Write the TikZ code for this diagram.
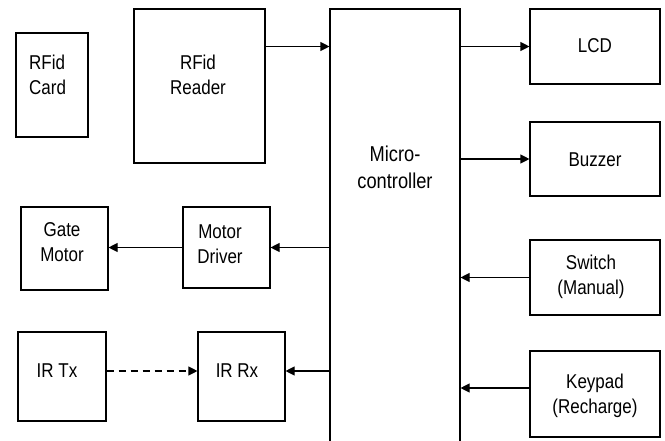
\documentclass[tikz,border=0pt]{standalone}
\usepackage{fontspec}
\setmainfont{Liberation Sans}[FakeStretch=0.85]
\usetikzlibrary{arrows.meta}
\begin{document}
\begin{tikzpicture}[x=1pt,y=-1pt,
  box/.style={draw=black, line width=1.1pt, rectangle, inner sep=0pt, fill=none},
  txt/.style={inner sep=0pt, align=center, font=\fontsize{20}{25}\selectfont},
  arr/.style={line width=1.1pt, -{Triangle[length=9pt,width=9pt]}},
  dsh/.style={arr, dash pattern=on 7pt off 5pt}]
\useasboundingbox (0,0) rectangle (665,440);
\clip (0,0) rectangle (665,440);
% boxes
\node[box, minimum width=72pt, minimum height=104pt] (card) at (52,85) {};
\node[box, minimum width=131pt, minimum height=154pt] (rdr) at (199.5,86) {};
\node[box, minimum width=130pt, minimum height=441pt] (mc) at (395,229.5) {};
\node[box, minimum width=130pt, minimum height=75pt] (lcd) at (595,46.5) {};
\node[box, minimum width=130pt, minimum height=74pt] (buz) at (595,159) {};
\node[box, minimum width=130pt, minimum height=75pt] (sw) at (595,277.5) {};
\node[box, minimum width=130pt, minimum height=86pt] (kp) at (595,394) {};
\node[box, minimum width=87pt, minimum height=83pt] (gm) at (64.5,248.5) {};
\node[box, minimum width=87pt, minimum height=81pt] (md) at (226.5,247.5) {};
\node[box, minimum width=88pt, minimum height=89pt] (tx) at (62,376.5) {};
\node[box, minimum width=87pt, minimum height=89pt] (rx) at (241.5,376.5) {};
% labels
\node[txt, align=left, anchor=west] (cardt) at (29,74.5) {RFid\\Card};
\node[txt] (rdrt) at (198,74.5) {RFid\\Reader};
\node[txt, font=\fontsize{21.5}{27}\selectfont] (mct) at (395,167) {Micro-\\controller};
\node[txt] (lcdt) at (595,46) {LCD};
\node[txt] (buzt) at (595,160) {Buzzer};
\node[txt] (swt) at (591,276.5) {Switch\\(Manual)};
\node[txt] (kpt) at (595,395.5) {Keypad\\(Recharge)};
\node[txt] (gmt) at (62,242.5) {Gate\\Motor};
\node[txt] (mdt) at (220,244.5) {Motor\\Driver};
\node[txt] (txt1) at (57,371) {IR Tx};
\node[txt] (rxt) at (237,371) {IR Rx};
% connector end points
\coordinate (kpin) at ([yshift=6pt]kp.west);
\coordinate (rxin) at ([yshift=5.5pt]rx.east);
\coordinate (rxl) at ([yshift=5.5pt]rx.west);
\coordinate (txo) at ([yshift=5.5pt]tx.east);
% connectors
\draw[arr] (rdr.east |- lcd.center) -- (mc.west |- lcd.center);
\draw[arr] (mc.east |- lcd.center) -- (lcd.west);
\draw[arr] (mc.east |- buz.center) -- (buz.west);
\draw[arr] (sw.west) -- (mc.east |- sw.center);
\draw[arr] (kpin) -- (mc.east |- kpin);
\draw[arr] (mc.west |- md.center) -- (md.east);
\draw[arr] (md.west) -- (gm.east |- md.center);
\draw[arr] (mc.west |- rxin) -- (rxin);
\draw[dsh] (txo) -- (rxl);
\end{tikzpicture}
\end{document}
